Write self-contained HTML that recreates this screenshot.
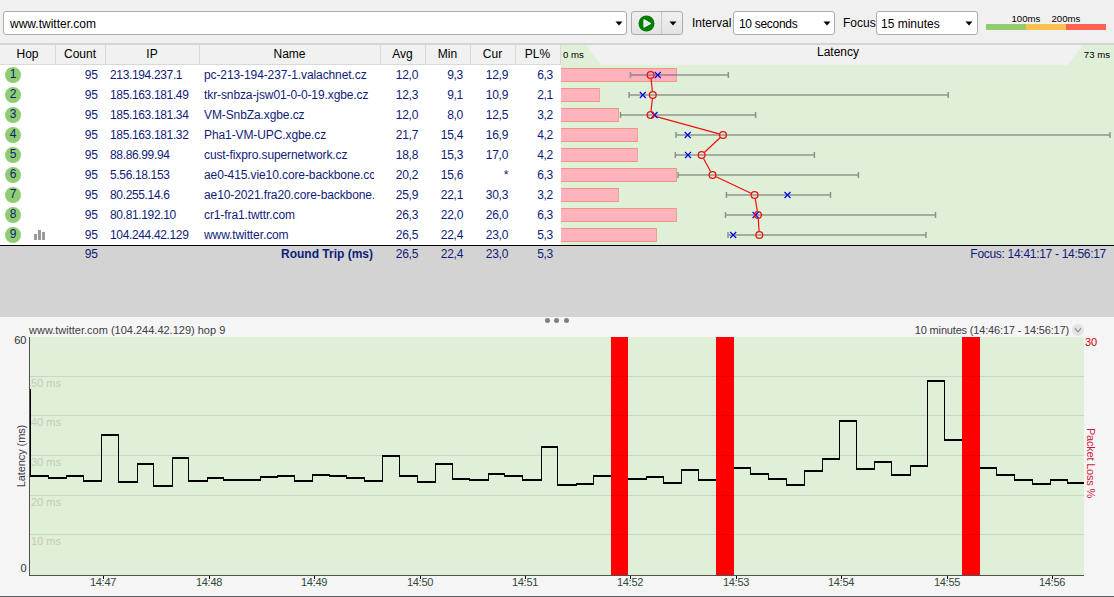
<!DOCTYPE html><html><head><meta charset="utf-8"><title>PingPlotter</title><style>
*{margin:0;padding:0;box-sizing:border-box}
html,body{width:1114px;height:597px;overflow:hidden;background:#f0f0f0;font-family:"Liberation Sans",sans-serif;}
.a{position:absolute;white-space:nowrap}
.t{font-size:12px;line-height:14px}
.nv{color:#101c78}
</style></head><body>
<div class="a" style="left:3px;top:11px;width:624px;height:24px;background:#fff;border:1px solid #acacac;border-radius:3px"></div>
<div class="a t" style="left:10px;top:17px;color:#000">www.twitter.com</div>
<svg class="a" style="left:614.6px;top:21px" width="8" height="5"><path d="M0.5,0.5 L7.5,0.5 L4,4.5 Z" fill="#000"/></svg>
<div class="a" style="left:631px;top:11px;width:52px;height:24px;background:linear-gradient(#f0f0f0,#e3e3e3);border:1px solid #acacac;border-radius:3px"></div>
<div class="a" style="left:661px;top:12px;width:1px;height:22px;background:#c8c8c8"></div>
<svg class="a" style="left:638px;top:15px" width="17" height="17" viewBox="0 0 17 17"><circle cx="8.5" cy="8.5" r="8" fill="#008000"/><path d="M6,4.8 L12.4,8.4 L6,12 Z" fill="#e4e4e4" stroke="#fff" stroke-width="1.2" stroke-linejoin="round"/></svg>
<svg class="a" style="left:668.5px;top:21px" width="8" height="5"><path d="M0.5,0.5 L7.5,0.5 L4,4.5 Z" fill="#000"/></svg>
<div class="a t" style="left:692px;top:16px;color:#000">Interval</div>
<div class="a" style="left:733px;top:11px;width:102px;height:24px;background:#fff;border:1px solid #acacac;border-radius:3px"></div>
<div class="a t" style="left:739px;top:17px;color:#000;letter-spacing:-0.3px">10 seconds</div>
<svg class="a" style="left:822.5px;top:21px" width="8" height="5"><path d="M0.5,0.5 L7.5,0.5 L4,4.5 Z" fill="#000"/></svg>
<div class="a t" style="left:843px;top:16px;color:#000">Focus</div>
<div class="a" style="left:876px;top:11px;width:102px;height:24px;background:#fff;border:1px solid #acacac;border-radius:3px"></div>
<div class="a t" style="left:881px;top:17px;color:#000">15 minutes</div>
<svg class="a" style="left:965.3px;top:21px" width="8" height="5"><path d="M0.5,0.5 L7.5,0.5 L4,4.5 Z" fill="#000"/></svg>
<div class="a" style="left:986px;top:24px;width:40px;height:6px;background:#93cb6f"></div>
<div class="a" style="left:1026px;top:24px;width:40px;height:6px;background:#ffc04f"></div>
<div class="a" style="left:1066px;top:24px;width:40px;height:6px;background:#ff6150"></div>
<div class="a" style="left:1011.5px;top:13px;font-size:9.6px;line-height:11px;color:#000">100ms</div>
<div class="a" style="left:1051.5px;top:13px;font-size:9.6px;line-height:11px;color:#000">200ms</div>
<div class="a" style="left:0;top:43px;width:1114px;height:2px;background:#d4d4d4"></div>
<div class="a" style="left:0;top:45px;width:1114px;height:19px;background:#f1f1f1"></div>
<div class="a" style="left:0;top:64px;width:561px;height:1px;background:#d9d9d9"></div>
<div class="a" style="left:55px;top:45px;width:1px;height:19px;background:#d9d9d9"></div>
<div class="a" style="left:105px;top:45px;width:1px;height:19px;background:#d9d9d9"></div>
<div class="a" style="left:199px;top:45px;width:1px;height:19px;background:#d9d9d9"></div>
<div class="a" style="left:380px;top:45px;width:1px;height:19px;background:#d9d9d9"></div>
<div class="a" style="left:425px;top:45px;width:1px;height:19px;background:#d9d9d9"></div>
<div class="a" style="left:470px;top:45px;width:1px;height:19px;background:#d9d9d9"></div>
<div class="a" style="left:515px;top:45px;width:1px;height:19px;background:#d9d9d9"></div>
<div class="a" style="left:560px;top:45px;width:1px;height:19px;background:#d9d9d9"></div>
<div class="a t" style="left:0px;top:47px;width:55px;text-align:center;color:#000">Hop</div>
<div class="a t" style="left:55px;top:47px;width:50px;text-align:center;color:#000">Count</div>
<div class="a t" style="left:105px;top:47px;width:94px;text-align:center;color:#000">IP</div>
<div class="a t" style="left:199px;top:47px;width:181px;text-align:center;color:#000">Name</div>
<div class="a t" style="left:380px;top:47px;width:45px;text-align:center;color:#000">Avg</div>
<div class="a t" style="left:425px;top:47px;width:45px;text-align:center;color:#000">Min</div>
<div class="a t" style="left:470px;top:47px;width:45px;text-align:center;color:#000">Cur</div>
<div class="a t" style="left:515px;top:47px;width:45px;text-align:center;color:#000">PL%</div>
<svg class="a" style="left:561px;top:45px" width="553" height="200" viewBox="561 45 553 200"><polygon points="561,45 586,45 601,65 561,65" fill="#e0efd7"/><polygon points="1083,45 1114,45 1114,65 1068,65" fill="#e0efd7"/><rect x="561" y="65" width="553" height="180" fill="#e0efd7"/></svg>
<div class="a" style="left:563px;top:49px;font-size:9.6px;line-height:12px;color:#000">0 ms</div>
<div class="a" style="left:1074px;top:49px;width:36px;text-align:right;font-size:9.6px;line-height:12px;color:#000">73 ms</div>
<div class="a t" style="left:817px;top:45px;color:#000">Latency</div>
<div class="a" style="left:0;top:65px;width:561px;height:180px;background:#fff"></div>
<div class="a" style="left:5px;top:67px;width:16px;height:16px;border-radius:8px;background:#8fcd72"></div>
<div class="a t nv" style="left:5px;top:67px;width:16px;text-align:center">1</div>
<div class="a t nv" style="left:55px;top:68px;width:43px;text-align:right">95</div>
<div class="a t nv" style="left:110px;top:68px;letter-spacing:-0.35px">213.194.237.1</div>
<div class="a t nv" style="left:204px;top:68px;width:170px;overflow:hidden;letter-spacing:-0.1px">pc-213-194-237-1.valachnet.cz</div>
<div class="a t nv" style="left:380px;top:68px;width:38px;text-align:right;letter-spacing:-0.3px">12,0</div>
<div class="a t nv" style="left:425px;top:68px;width:38px;text-align:right;letter-spacing:-0.3px">9,3</div>
<div class="a t nv" style="left:470px;top:68px;width:38px;text-align:right;letter-spacing:-0.3px">12,9</div>
<div class="a t nv" style="left:515px;top:68px;width:38px;text-align:right;letter-spacing:-0.3px">6,3</div>
<div class="a" style="left:5px;top:87px;width:16px;height:16px;border-radius:8px;background:#8fcd72"></div>
<div class="a t nv" style="left:5px;top:87px;width:16px;text-align:center">2</div>
<div class="a t nv" style="left:55px;top:88px;width:43px;text-align:right">95</div>
<div class="a t nv" style="left:110px;top:88px;letter-spacing:-0.35px">185.163.181.49</div>
<div class="a t nv" style="left:204px;top:88px;width:170px;overflow:hidden;letter-spacing:-0.1px">tkr-snbza-jsw01-0-0-19.xgbe.cz</div>
<div class="a t nv" style="left:380px;top:88px;width:38px;text-align:right;letter-spacing:-0.3px">12,3</div>
<div class="a t nv" style="left:425px;top:88px;width:38px;text-align:right;letter-spacing:-0.3px">9,1</div>
<div class="a t nv" style="left:470px;top:88px;width:38px;text-align:right;letter-spacing:-0.3px">10,9</div>
<div class="a t nv" style="left:515px;top:88px;width:38px;text-align:right;letter-spacing:-0.3px">2,1</div>
<div class="a" style="left:5px;top:107px;width:16px;height:16px;border-radius:8px;background:#8fcd72"></div>
<div class="a t nv" style="left:5px;top:107px;width:16px;text-align:center">3</div>
<div class="a t nv" style="left:55px;top:108px;width:43px;text-align:right">95</div>
<div class="a t nv" style="left:110px;top:108px;letter-spacing:-0.35px">185.163.181.34</div>
<div class="a t nv" style="left:204px;top:108px;width:170px;overflow:hidden;letter-spacing:-0.1px">VM-SnbZa.xgbe.cz</div>
<div class="a t nv" style="left:380px;top:108px;width:38px;text-align:right;letter-spacing:-0.3px">12,0</div>
<div class="a t nv" style="left:425px;top:108px;width:38px;text-align:right;letter-spacing:-0.3px">8,0</div>
<div class="a t nv" style="left:470px;top:108px;width:38px;text-align:right;letter-spacing:-0.3px">12,5</div>
<div class="a t nv" style="left:515px;top:108px;width:38px;text-align:right;letter-spacing:-0.3px">3,2</div>
<div class="a" style="left:5px;top:127px;width:16px;height:16px;border-radius:8px;background:#8fcd72"></div>
<div class="a t nv" style="left:5px;top:127px;width:16px;text-align:center">4</div>
<div class="a t nv" style="left:55px;top:128px;width:43px;text-align:right">95</div>
<div class="a t nv" style="left:110px;top:128px;letter-spacing:-0.35px">185.163.181.32</div>
<div class="a t nv" style="left:204px;top:128px;width:170px;overflow:hidden;letter-spacing:-0.1px">Pha1-VM-UPC.xgbe.cz</div>
<div class="a t nv" style="left:380px;top:128px;width:38px;text-align:right;letter-spacing:-0.3px">21,7</div>
<div class="a t nv" style="left:425px;top:128px;width:38px;text-align:right;letter-spacing:-0.3px">15,4</div>
<div class="a t nv" style="left:470px;top:128px;width:38px;text-align:right;letter-spacing:-0.3px">16,9</div>
<div class="a t nv" style="left:515px;top:128px;width:38px;text-align:right;letter-spacing:-0.3px">4,2</div>
<div class="a" style="left:5px;top:147px;width:16px;height:16px;border-radius:8px;background:#8fcd72"></div>
<div class="a t nv" style="left:5px;top:147px;width:16px;text-align:center">5</div>
<div class="a t nv" style="left:55px;top:148px;width:43px;text-align:right">95</div>
<div class="a t nv" style="left:110px;top:148px;letter-spacing:-0.35px">88.86.99.94</div>
<div class="a t nv" style="left:204px;top:148px;width:170px;overflow:hidden;letter-spacing:-0.1px">cust-fixpro.supernetwork.cz</div>
<div class="a t nv" style="left:380px;top:148px;width:38px;text-align:right;letter-spacing:-0.3px">18,8</div>
<div class="a t nv" style="left:425px;top:148px;width:38px;text-align:right;letter-spacing:-0.3px">15,3</div>
<div class="a t nv" style="left:470px;top:148px;width:38px;text-align:right;letter-spacing:-0.3px">17,0</div>
<div class="a t nv" style="left:515px;top:148px;width:38px;text-align:right;letter-spacing:-0.3px">4,2</div>
<div class="a" style="left:5px;top:167px;width:16px;height:16px;border-radius:8px;background:#8fcd72"></div>
<div class="a t nv" style="left:5px;top:167px;width:16px;text-align:center">6</div>
<div class="a t nv" style="left:55px;top:168px;width:43px;text-align:right">95</div>
<div class="a t nv" style="left:110px;top:168px;letter-spacing:-0.35px">5.56.18.153</div>
<div class="a t nv" style="left:204px;top:168px;width:170px;overflow:hidden;letter-spacing:-0.1px">ae0-415.vie10.core-backbone.cc</div>
<div class="a t nv" style="left:380px;top:168px;width:38px;text-align:right;letter-spacing:-0.3px">20,2</div>
<div class="a t nv" style="left:425px;top:168px;width:38px;text-align:right;letter-spacing:-0.3px">15,6</div>
<div class="a t nv" style="left:470px;top:168px;width:38px;text-align:right;letter-spacing:-0.3px">*</div>
<div class="a t nv" style="left:515px;top:168px;width:38px;text-align:right;letter-spacing:-0.3px">6,3</div>
<div class="a" style="left:5px;top:187px;width:16px;height:16px;border-radius:8px;background:#8fcd72"></div>
<div class="a t nv" style="left:5px;top:187px;width:16px;text-align:center">7</div>
<div class="a t nv" style="left:55px;top:188px;width:43px;text-align:right">95</div>
<div class="a t nv" style="left:110px;top:188px;letter-spacing:-0.35px">80.255.14.6</div>
<div class="a t nv" style="left:204px;top:188px;width:170px;overflow:hidden;letter-spacing:-0.1px">ae10-2021.fra20.core-backbone.com</div>
<div class="a t nv" style="left:380px;top:188px;width:38px;text-align:right;letter-spacing:-0.3px">25,9</div>
<div class="a t nv" style="left:425px;top:188px;width:38px;text-align:right;letter-spacing:-0.3px">22,1</div>
<div class="a t nv" style="left:470px;top:188px;width:38px;text-align:right;letter-spacing:-0.3px">30,3</div>
<div class="a t nv" style="left:515px;top:188px;width:38px;text-align:right;letter-spacing:-0.3px">3,2</div>
<div class="a" style="left:5px;top:207px;width:16px;height:16px;border-radius:8px;background:#8fcd72"></div>
<div class="a t nv" style="left:5px;top:207px;width:16px;text-align:center">8</div>
<div class="a t nv" style="left:55px;top:208px;width:43px;text-align:right">95</div>
<div class="a t nv" style="left:110px;top:208px;letter-spacing:-0.35px">80.81.192.10</div>
<div class="a t nv" style="left:204px;top:208px;width:170px;overflow:hidden;letter-spacing:-0.1px">cr1-fra1.twttr.com</div>
<div class="a t nv" style="left:380px;top:208px;width:38px;text-align:right;letter-spacing:-0.3px">26,3</div>
<div class="a t nv" style="left:425px;top:208px;width:38px;text-align:right;letter-spacing:-0.3px">22,0</div>
<div class="a t nv" style="left:470px;top:208px;width:38px;text-align:right;letter-spacing:-0.3px">26,0</div>
<div class="a t nv" style="left:515px;top:208px;width:38px;text-align:right;letter-spacing:-0.3px">6,3</div>
<div class="a" style="left:5px;top:227px;width:16px;height:16px;border-radius:8px;background:#8fcd72"></div>
<div class="a t nv" style="left:5px;top:227px;width:16px;text-align:center">9</div>
<div class="a t nv" style="left:55px;top:228px;width:43px;text-align:right">95</div>
<div class="a t nv" style="left:110px;top:228px;letter-spacing:-0.35px">104.244.42.129</div>
<div class="a t nv" style="left:204px;top:228px;width:170px;overflow:hidden;letter-spacing:-0.1px">www.twitter.com</div>
<div class="a t nv" style="left:380px;top:228px;width:38px;text-align:right;letter-spacing:-0.3px">26,5</div>
<div class="a t nv" style="left:425px;top:228px;width:38px;text-align:right;letter-spacing:-0.3px">22,4</div>
<div class="a t nv" style="left:470px;top:228px;width:38px;text-align:right;letter-spacing:-0.3px">23,0</div>
<div class="a t nv" style="left:515px;top:228px;width:38px;text-align:right;letter-spacing:-0.3px">5,3</div>
<div class="a" style="left:34px;top:234px;width:3px;height:6px;background:#999"></div>
<div class="a" style="left:38px;top:230px;width:3px;height:10px;background:#999"></div>
<div class="a" style="left:42px;top:232px;width:3px;height:8px;background:#999"></div>
<div class="a" style="left:0;top:245px;width:1114px;height:1px;background:#000"></div>
<div class="a" style="left:0;top:246px;width:1114px;height:71px;background:#d3d3d3"></div>
<div class="a t nv" style="left:55px;top:247px;width:43px;text-align:right">95</div>
<div class="a t nv" style="left:199px;top:247px;width:174px;text-align:right;font-weight:bold">Round Trip (ms)</div>
<div class="a t nv" style="left:380px;top:247px;width:38px;text-align:right;letter-spacing:-0.3px">26,5</div>
<div class="a t nv" style="left:425px;top:247px;width:38px;text-align:right;letter-spacing:-0.3px">22,4</div>
<div class="a t nv" style="left:470px;top:247px;width:38px;text-align:right;letter-spacing:-0.3px">23,0</div>
<div class="a t nv" style="left:515px;top:247px;width:38px;text-align:right;letter-spacing:-0.3px">5,3</div>
<div class="a t nv" style="left:900px;top:247px;width:206px;text-align:right;letter-spacing:-0.3px">Focus: 14:41:17 - 14:56:17</div>
<div class="a" style="left:0;top:317px;width:1114px;height:279px;background:#f5f5f5"></div>
<div class="a" style="left:0;top:596px;width:1114px;height:1px;background:#5c5f62"></div>
<div class="a" style="left:544.5px;top:318px;width:5px;height:5px;border-radius:3px;background:#808080"></div>
<div class="a" style="left:554.0px;top:318px;width:5px;height:5px;border-radius:3px;background:#808080"></div>
<div class="a" style="left:563.5px;top:318px;width:5px;height:5px;border-radius:3px;background:#808080"></div>
<div class="a" style="left:29px;top:324px;font-size:11px;line-height:13px;color:#404040">www.twitter.com (104.244.42.129) hop 9</div>
<div class="a" style="left:860px;top:324px;width:209px;text-align:right;font-size:11px;line-height:13px;color:#404040;letter-spacing:-0.17px">10 minutes (14:46:17 - 14:56:17)</div>
<div class="a" style="left:1072px;top:324px;width:12px;height:12px;border-radius:6px;background:#e2e2e2"></div>
<svg class="a" style="left:1072px;top:324px" width="12" height="12"><path d="M3,4.4 L6,7.8 L9,4.4" fill="none" stroke="#8c8c8c" stroke-width="1.1"/></svg>
<svg class="a" style="left:0;top:0" width="1114" height="597" viewBox="0 0 1114 597">
<rect x="30" y="337" width="1054" height="238" fill="#e0efd7"/>
<rect x="30" y="376" width="1054" height="1" fill="#cbd7c3"/>
<rect x="30" y="415" width="1054" height="1" fill="#cbd7c3"/>
<rect x="30" y="455" width="1054" height="1" fill="#cbd7c3"/>
<rect x="30" y="495" width="1054" height="1" fill="#cbd7c3"/>
<rect x="30" y="534" width="1054" height="1" fill="#cbd7c3"/>
</svg>
<div class="a" style="left:31px;top:377px;font-size:11px;line-height:13px;color:#c3ccbb">50 ms</div>
<div class="a" style="left:31px;top:416px;font-size:11px;line-height:13px;color:#c3ccbb">40 ms</div>
<div class="a" style="left:31px;top:456px;font-size:11px;line-height:13px;color:#c3ccbb">30 ms</div>
<div class="a" style="left:31px;top:496px;font-size:11px;line-height:13px;color:#c3ccbb">20 ms</div>
<div class="a" style="left:31px;top:535px;font-size:11px;line-height:13px;color:#c3ccbb">10 ms</div>
<svg class="a" style="left:0;top:0" width="1114" height="597" viewBox="0 0 1114 597">
<path d="M30,389h1v88h-1zM30,475h19v2h-19zM48,475h1v4h-1zM48,477h19v2h-19zM66,475h1v4h-1zM66,475h18v2h-18zM83,475h1v7h-1zM83,480h19v2h-19zM101,434h1v48h-1zM101,434h18v2h-18zM118,434h1v49h-1zM118,481h20v2h-20zM137,463h1v20h-1zM137,463h17v2h-17zM153,463h1v24h-1zM153,485h20v2h-20zM172,457h1v30h-1zM172,457h17v2h-17zM188,457h1v25h-1zM188,480h20v2h-20zM207,477h1v5h-1zM207,477h17v2h-17zM223,477h1v4h-1zM223,479h19v2h-19zM241,479h1v2h-1zM241,479h20v2h-20zM260,476h1v5h-1zM260,476h18v2h-18zM277,475h1v3h-1zM277,475h18v2h-18zM294,475h1v7h-1zM294,480h19v2h-19zM312,474h1v8h-1zM312,474h18v2h-18zM329,474h1v3h-1zM329,475h18v2h-18zM346,475h1v4h-1zM346,477h19v2h-19zM364,477h1v5h-1zM364,480h19v2h-19zM382,455h1v27h-1zM382,455h18v2h-18zM399,455h1v22h-1zM399,475h19v2h-19zM417,475h1v8h-1zM417,481h19v2h-19zM435,463h1v20h-1zM435,463h18v2h-18zM452,463h1v17h-1zM452,478h18v2h-18zM469,478h1v3h-1zM469,479h20v2h-20zM488,473h1v8h-1zM488,473h17v2h-17zM504,473h1v4h-1zM504,475h19v2h-19zM522,475h1v6h-1zM522,479h20v2h-20zM541,446h1v35h-1zM541,446h17v2h-17zM557,446h1v40h-1zM557,484h20v2h-20zM576,483h1v3h-1zM576,483h18v2h-18zM593,475h1v10h-1zM593,475h19v2h-19zM628,478h19v2h-19zM646,476h1v4h-1zM646,476h18v2h-18zM663,476h1v8h-1zM663,482h19v2h-19zM681,469h1v15h-1zM681,469h18v2h-18zM698,469h1v12h-1zM698,479h19v2h-19zM734,467h17v2h-17zM750,467h1v8h-1zM750,473h19v2h-19zM768,473h1v7h-1zM768,478h19v2h-19zM786,478h1v8h-1zM786,484h19v2h-19zM804,470h1v16h-1zM804,470h19v2h-19zM822,458h1v14h-1zM822,458h18v2h-18zM839,420h1v40h-1zM839,420h18v2h-18zM856,420h1v50h-1zM856,468h19v2h-19zM874,461h1v9h-1zM874,461h18v2h-18zM891,461h1v15h-1zM891,474h20v2h-20zM910,465h1v11h-1zM910,465h18v2h-18zM927,380h1v87h-1zM927,380h18v2h-18zM944,380h1v61h-1zM944,439h19v2h-19zM980,467h17v2h-17zM996,467h1v9h-1zM996,474h19v2h-19zM1014,474h1v7h-1zM1014,479h19v2h-19zM1032,479h1v6h-1zM1032,483h19v2h-19zM1050,479h1v6h-1zM1050,479h18v2h-18zM1067,479h1v5h-1zM1067,482h17v2h-17z" fill="#000" shape-rendering="crispEdges"/>
<rect x="611" y="337" width="17" height="238" fill="#ff0000"/>
<rect x="611" y="376" width="17" height="1" fill="#000" fill-opacity="0.1"/>
<rect x="611" y="415" width="17" height="1" fill="#000" fill-opacity="0.1"/>
<rect x="611" y="455" width="17" height="1" fill="#000" fill-opacity="0.1"/>
<rect x="611" y="495" width="17" height="1" fill="#000" fill-opacity="0.1"/>
<rect x="611" y="534" width="17" height="1" fill="#000" fill-opacity="0.1"/>
<rect x="716" y="337" width="18" height="238" fill="#ff0000"/>
<rect x="716" y="376" width="18" height="1" fill="#000" fill-opacity="0.1"/>
<rect x="716" y="415" width="18" height="1" fill="#000" fill-opacity="0.1"/>
<rect x="716" y="455" width="18" height="1" fill="#000" fill-opacity="0.1"/>
<rect x="716" y="495" width="18" height="1" fill="#000" fill-opacity="0.1"/>
<rect x="716" y="534" width="18" height="1" fill="#000" fill-opacity="0.1"/>
<rect x="962" y="337" width="18" height="238" fill="#ff0000"/>
<rect x="962" y="376" width="18" height="1" fill="#000" fill-opacity="0.1"/>
<rect x="962" y="415" width="18" height="1" fill="#000" fill-opacity="0.1"/>
<rect x="962" y="455" width="18" height="1" fill="#000" fill-opacity="0.1"/>
<rect x="962" y="495" width="18" height="1" fill="#000" fill-opacity="0.1"/>
<rect x="962" y="534" width="18" height="1" fill="#000" fill-opacity="0.1"/>
<rect x="29" y="337" width="1" height="239" fill="#505050"/>
<rect x="29" y="575" width="1055" height="1" fill="#505050"/>
<rect x="103" y="576" width="1" height="3" fill="#000"/>
<rect x="209" y="576" width="1" height="3" fill="#000"/>
<rect x="314" y="576" width="1" height="3" fill="#000"/>
<rect x="420" y="576" width="1" height="3" fill="#000"/>
<rect x="525" y="576" width="1" height="3" fill="#000"/>
<rect x="630" y="576" width="1" height="3" fill="#000"/>
<rect x="736" y="576" width="1" height="3" fill="#000"/>
<rect x="841" y="576" width="1" height="3" fill="#000"/>
<rect x="947" y="576" width="1" height="3" fill="#000"/>
<rect x="1052" y="576" width="1" height="3" fill="#000"/>
</svg>
<div class="a" style="left:73px;top:576px;width:60px;text-align:center;font-size:11px;line-height:13px;color:#2e4a3a;letter-spacing:-0.3px">14:47</div>
<div class="a" style="left:179px;top:576px;width:60px;text-align:center;font-size:11px;line-height:13px;color:#2e4a3a;letter-spacing:-0.3px">14:48</div>
<div class="a" style="left:284px;top:576px;width:60px;text-align:center;font-size:11px;line-height:13px;color:#2e4a3a;letter-spacing:-0.3px">14:49</div>
<div class="a" style="left:390px;top:576px;width:60px;text-align:center;font-size:11px;line-height:13px;color:#2e4a3a;letter-spacing:-0.3px">14:50</div>
<div class="a" style="left:495px;top:576px;width:60px;text-align:center;font-size:11px;line-height:13px;color:#2e4a3a;letter-spacing:-0.3px">14:51</div>
<div class="a" style="left:600px;top:576px;width:60px;text-align:center;font-size:11px;line-height:13px;color:#2e4a3a;letter-spacing:-0.3px">14:52</div>
<div class="a" style="left:706px;top:576px;width:60px;text-align:center;font-size:11px;line-height:13px;color:#2e4a3a;letter-spacing:-0.3px">14:53</div>
<div class="a" style="left:811px;top:576px;width:60px;text-align:center;font-size:11px;line-height:13px;color:#2e4a3a;letter-spacing:-0.3px">14:54</div>
<div class="a" style="left:917px;top:576px;width:60px;text-align:center;font-size:11px;line-height:13px;color:#2e4a3a;letter-spacing:-0.3px">14:55</div>
<div class="a" style="left:1022px;top:576px;width:60px;text-align:center;font-size:11px;line-height:13px;color:#2e4a3a;letter-spacing:-0.3px">14:56</div>
<div class="a" style="left:1.5px;top:334px;width:25px;text-align:right;font-size:11px;line-height:13px;color:#303030">60</div>
<div class="a" style="left:1.5px;top:562px;width:25px;text-align:right;font-size:11px;line-height:13px;color:#303030">0</div>
<div class="a" style="left:1085px;top:336px;font-size:11px;line-height:13px;color:#c80000">30</div>
<div class="a" style="left:21px;top:456px;font-size:11px;line-height:13px;color:#3a3a48;letter-spacing:-0.1px;transform:translate(-50%,-50%) rotate(-90deg)">Latency (ms)</div>
<div class="a" style="left:1090px;top:463px;font-size:11px;line-height:13px;color:#d01838;letter-spacing:-0.2px;transform:translate(-50%,-50%) rotate(90deg)">Packet Loss %</div>
<svg class="a" style="left:0;top:0" width="1114" height="597" viewBox="0 0 1114 597">
<rect x="561" y="68" width="116" height="14" fill="#ffb3bd"/>
<rect x="561" y="68" width="116" height="1" fill="#ef9580"/>
<rect x="561" y="81" width="116" height="1" fill="#ef9580"/>
<rect x="676" y="68" width="1" height="14" fill="#f4a290"/>
<line x1="630.4" y1="75" x2="728.3" y2="75" stroke="#5a5a5a" stroke-opacity="0.45" stroke-width="2"/>
<line x1="630.4" y1="72" x2="630.4" y2="78" stroke="#8e928a" stroke-width="1.5"/>
<line x1="728.3" y1="72" x2="728.3" y2="78" stroke="#8e928a" stroke-width="1.5"/>
<rect x="561" y="88" width="39" height="14" fill="#ffb3bd"/>
<rect x="561" y="88" width="39" height="1" fill="#ef9580"/>
<rect x="561" y="101" width="39" height="1" fill="#ef9580"/>
<rect x="599" y="88" width="1" height="14" fill="#f4a290"/>
<line x1="629.1" y1="95" x2="948.2" y2="95" stroke="#5a5a5a" stroke-opacity="0.45" stroke-width="2"/>
<line x1="629.1" y1="92" x2="629.1" y2="98" stroke="#8e928a" stroke-width="1.5"/>
<line x1="948.2" y1="92" x2="948.2" y2="98" stroke="#8e928a" stroke-width="1.5"/>
<rect x="561" y="108" width="58" height="14" fill="#ffb3bd"/>
<rect x="561" y="108" width="58" height="1" fill="#ef9580"/>
<rect x="561" y="121" width="58" height="1" fill="#ef9580"/>
<rect x="618" y="108" width="1" height="14" fill="#f4a290"/>
<line x1="620.5" y1="115" x2="755.6" y2="115" stroke="#5a5a5a" stroke-opacity="0.45" stroke-width="2"/>
<line x1="620.5" y1="112" x2="620.5" y2="118" stroke="#8e928a" stroke-width="1.5"/>
<line x1="755.6" y1="112" x2="755.6" y2="118" stroke="#8e928a" stroke-width="1.5"/>
<rect x="561" y="128" width="77" height="14" fill="#ffb3bd"/>
<rect x="561" y="128" width="77" height="1" fill="#ef9580"/>
<rect x="561" y="141" width="77" height="1" fill="#ef9580"/>
<rect x="637" y="128" width="1" height="14" fill="#f4a290"/>
<line x1="676.0" y1="135" x2="1110.0" y2="135" stroke="#5a5a5a" stroke-opacity="0.45" stroke-width="2"/>
<line x1="676.0" y1="132" x2="676.0" y2="138" stroke="#8e928a" stroke-width="1.5"/>
<line x1="1110.0" y1="132" x2="1110.0" y2="138" stroke="#8e928a" stroke-width="1.5"/>
<rect x="561" y="148" width="77" height="14" fill="#ffb3bd"/>
<rect x="561" y="148" width="77" height="1" fill="#ef9580"/>
<rect x="561" y="161" width="77" height="1" fill="#ef9580"/>
<rect x="637" y="148" width="1" height="14" fill="#f4a290"/>
<line x1="675.3" y1="155" x2="814.4" y2="155" stroke="#5a5a5a" stroke-opacity="0.45" stroke-width="2"/>
<line x1="675.3" y1="152" x2="675.3" y2="158" stroke="#8e928a" stroke-width="1.5"/>
<line x1="814.4" y1="152" x2="814.4" y2="158" stroke="#8e928a" stroke-width="1.5"/>
<rect x="561" y="168" width="116" height="14" fill="#ffb3bd"/>
<rect x="561" y="168" width="116" height="1" fill="#ef9580"/>
<rect x="561" y="181" width="116" height="1" fill="#ef9580"/>
<rect x="676" y="168" width="1" height="14" fill="#f4a290"/>
<line x1="678.0" y1="175" x2="858.4" y2="175" stroke="#5a5a5a" stroke-opacity="0.45" stroke-width="2"/>
<line x1="678.0" y1="172" x2="678.0" y2="178" stroke="#8e928a" stroke-width="1.5"/>
<line x1="858.4" y1="172" x2="858.4" y2="178" stroke="#8e928a" stroke-width="1.5"/>
<rect x="561" y="188" width="58" height="14" fill="#ffb3bd"/>
<rect x="561" y="188" width="58" height="1" fill="#ef9580"/>
<rect x="561" y="201" width="58" height="1" fill="#ef9580"/>
<rect x="618" y="188" width="1" height="14" fill="#f4a290"/>
<line x1="726.4" y1="195" x2="830.5" y2="195" stroke="#5a5a5a" stroke-opacity="0.45" stroke-width="2"/>
<line x1="726.4" y1="192" x2="726.4" y2="198" stroke="#8e928a" stroke-width="1.5"/>
<line x1="830.5" y1="192" x2="830.5" y2="198" stroke="#8e928a" stroke-width="1.5"/>
<rect x="561" y="208" width="116" height="14" fill="#ffb3bd"/>
<rect x="561" y="208" width="116" height="1" fill="#ef9580"/>
<rect x="561" y="221" width="116" height="1" fill="#ef9580"/>
<rect x="676" y="208" width="1" height="14" fill="#f4a290"/>
<line x1="725.5" y1="215" x2="935.5" y2="215" stroke="#5a5a5a" stroke-opacity="0.45" stroke-width="2"/>
<line x1="725.5" y1="212" x2="725.5" y2="218" stroke="#8e928a" stroke-width="1.5"/>
<line x1="935.5" y1="212" x2="935.5" y2="218" stroke="#8e928a" stroke-width="1.5"/>
<rect x="561" y="228" width="96" height="14" fill="#ffb3bd"/>
<rect x="561" y="228" width="96" height="1" fill="#ef9580"/>
<rect x="561" y="241" width="96" height="1" fill="#ef9580"/>
<rect x="656" y="228" width="1" height="14" fill="#f4a290"/>
<line x1="728.0" y1="235" x2="925.9" y2="235" stroke="#5a5a5a" stroke-opacity="0.45" stroke-width="2"/>
<line x1="728.0" y1="232" x2="728.0" y2="238" stroke="#8e928a" stroke-width="1.5"/>
<line x1="925.9" y1="232" x2="925.9" y2="238" stroke="#8e928a" stroke-width="1.5"/>
<line x1="651.04" y1="78.98" x2="652.36" y2="91.02" stroke="#f01010" stroke-width="1.2"/>
<line x1="652.36" y1="98.98" x2="651.04" y2="111.02" stroke="#f01010" stroke-width="1.2"/>
<line x1="654.46" y1="116.07" x2="719.14" y2="133.93" stroke="#f01010" stroke-width="1.2"/>
<line x1="720.08" y1="137.73" x2="704.52" y2="152.27" stroke="#f01010" stroke-width="1.2"/>
<line x1="703.51" y1="158.51" x2="710.59" y2="171.49" stroke="#f01010" stroke-width="1.2"/>
<line x1="716.11" y1="176.72" x2="750.99" y2="193.28" stroke="#f01010" stroke-width="1.2"/>
<line x1="755.27" y1="198.94" x2="757.33" y2="211.06" stroke="#f01010" stroke-width="1.2"/>
<line x1="758.26" y1="218.99" x2="759.04" y2="231.01" stroke="#f01010" stroke-width="1.2"/>
<path d="M654.8,72.0 L660.8,78.0 M654.8,78.0 L660.8,72.0" stroke="#0000f0" stroke-width="1.15"/>
<circle cx="650.6" cy="75" r="3.4" fill="none" stroke="#f01010" stroke-width="1.3"/>
<path d="M639.8,92.0 L645.8,98.0 M639.8,98.0 L645.8,92.0" stroke="#0000f0" stroke-width="1.15"/>
<circle cx="652.8" cy="95" r="3.4" fill="none" stroke="#f01010" stroke-width="1.3"/>
<path d="M651.5,112.0 L657.5,118.0 M651.5,118.0 L657.5,112.0" stroke="#0000f0" stroke-width="1.15"/>
<circle cx="650.6" cy="115" r="3.4" fill="none" stroke="#f01010" stroke-width="1.3"/>
<path d="M684.7,132.0 L690.7,138.0 M684.7,138.0 L690.7,132.0" stroke="#0000f0" stroke-width="1.15"/>
<circle cx="723.0" cy="135" r="3.4" fill="none" stroke="#f01010" stroke-width="1.3"/>
<path d="M685.0,152.0 L691.0,158.0 M685.0,158.0 L691.0,152.0" stroke="#0000f0" stroke-width="1.15"/>
<circle cx="701.6" cy="155" r="3.4" fill="none" stroke="#f01010" stroke-width="1.3"/>
<circle cx="712.5" cy="175" r="3.4" fill="none" stroke="#f01010" stroke-width="1.3"/>
<path d="M784.5,192.0 L790.5,198.0 M784.5,198.0 L790.5,192.0" stroke="#0000f0" stroke-width="1.15"/>
<circle cx="754.6" cy="195" r="3.4" fill="none" stroke="#f01010" stroke-width="1.3"/>
<path d="M752.6,212.0 L758.6,218.0 M752.6,218.0 L758.6,212.0" stroke="#0000f0" stroke-width="1.15"/>
<circle cx="758.0" cy="215" r="3.4" fill="none" stroke="#f01010" stroke-width="1.3"/>
<path d="M730.2,232.0 L736.2,238.0 M730.2,238.0 L736.2,232.0" stroke="#0000f0" stroke-width="1.15"/>
<circle cx="759.3" cy="235" r="3.4" fill="none" stroke="#f01010" stroke-width="1.3"/>
</svg>
</body></html>
